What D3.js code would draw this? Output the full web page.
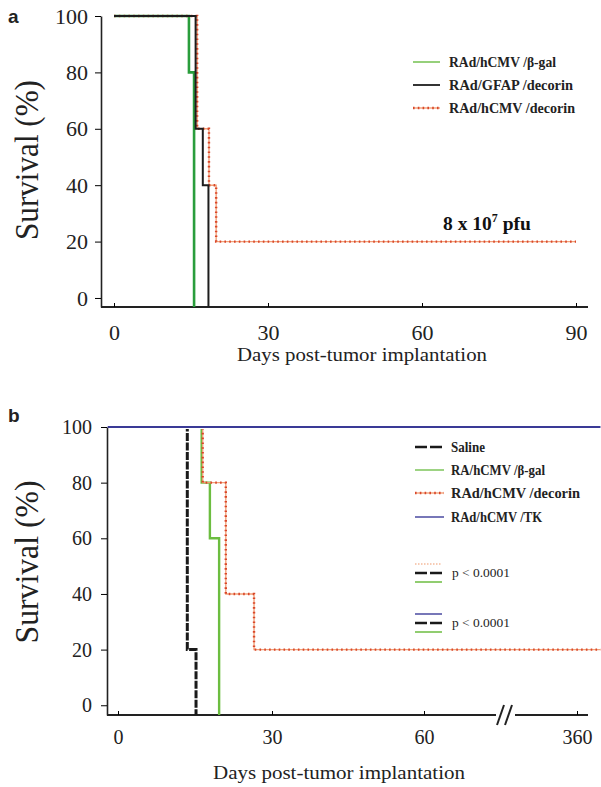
<!DOCTYPE html>
<html><head><meta charset="utf-8">
<script src="https://cdn.jsdelivr.net/npm/d3@7"></script>
<style>body{margin:0;background:#fff}svg{display:block}</style>
</head><body>
<script>
// ---------- DATA ----------
// Panel a: Kaplan-Meier steps (day, survival %)
const aGreenDays = [0, 14.6, 15.6];
const aGreenSurv = [100, 80, 0];
const aBlackDays = [0, 15.9, 17.3, 18.4];
const aBlackSurv = [100, 60, 40, 0];
const aOrangeDays = [0, 16.2, 18.5, 19.9, 90];
const aOrangeSurv = [100, 60, 40, 20, 20];
const aLegend = ["RAd/hCMV /β-gal", "RAd/GFAP /decorin", "RAd/hCMV /decorin"];
const aXTicks = [0, 30, 60, 90];
const yTicks = [0, 20, 40, 60, 80, 100];

// Panel b
const bSalineDays = [-2, 13.5, 15.2];
const bSalineSurv = [100, 20, 0];
const bGreenDays = [-2, 16.3, 17.9, 19.7];
const bGreenSurv = [100, 80, 60, 0];
const bOrangeDays = [-2, 16.5, 21.0, 26.5, 406];
const bOrangeSurv = [100, 80, 40, 20, 20];
const bTKDays = [-2, 406];
const bTKSurv = [100, 100];
const bLegend = ["Saline", "RA/hCMV /β-gal", "RAd/hCMV /decorin", "RAd/hCMV /TK"];
const bXTicks = [0, 30, 60, 360];
const pLabels = ["p < 0.0001", "p < 0.0001"];

const W = 601, H = 787;
const svg = d3.select("body").append("svg").attr("width", W).attr("height", H);
const serif = "'Liberation Serif','Times New Roman',serif";

function zip(d, s) { return d.map((v, i) => [v, s[i]]); }

function drawOrange(g, line, pts) {
  g.append("path").attr("d", line(pts)).attr("fill", "none")
    .attr("stroke", "#f2a27a").attr("stroke-width", 1.4);
  g.append("path").attr("d", line(pts)).attr("fill", "none")
    .attr("stroke", "#d9472a").attr("stroke-width", 2.4).attr("stroke-dasharray", "1.6,3.2");
}

function fitText(sel, len) {
  sel.attr("textLength", len).attr("lengthAdjust", "spacingAndGlyphs");
  return sel;
}

function yAxisTitle(g, cx, cy, len) {
  fitText(g.append("text").attr("transform", `translate(${cx},${cy}) rotate(-90)`)
    .attr("text-anchor", "middle").attr("font-family", serif).attr("font-size", 34)
    .attr("fill", "#222").text("Survival (%)"), len);
}

// ---------- PANEL A ----------
{
  const axX = 101, axY = 307, xEnd = 588;
  const x = d3.scaleLinear().domain([0, 90]).range([114, 576]);
  const y = d3.scaleLinear().domain([-3.2, 100]).range([axY, 16]);
  const g = svg.append("g");
  const line = d3.line().x(d => x(d[0]))
    .y(d => d[1] === 0 ? y(y.domain()[0]) : y(d[1])).curve(d3.curveStepAfter);

  g.append("line").attr("x1", axX).attr("x2", xEnd).attr("y1", axY).attr("y2", axY)
    .attr("stroke", "#222").attr("stroke-width", 2);
  const ya = g.append("g").attr("transform", `translate(${axX},0)`)
    .call(d3.axisLeft(y).tickValues(yTicks).tickSizeInner(6).tickSizeOuter(0).tickPadding(7));
  ya.select(".domain").attr("stroke", "#222").attr("stroke-width", 1.6);
  ya.selectAll("text").attr("font-family", serif).attr("font-size", 22).attr("fill", "#222");
  const xa = g.append("g").attr("transform", `translate(0,${axY})`)
    .call(d3.axisBottom(x).tickValues(aXTicks).tickSizeInner(-4).tickSizeOuter(0).tickPadding(17));
  xa.select(".domain").remove();
  xa.selectAll("text").attr("font-family", serif).attr("font-size", 22).attr("fill", "#222");

  g.append("path").attr("d", line(zip(aGreenDays, aGreenSurv))).attr("fill", "none")
    .attr("stroke", "#2a9d3c").attr("stroke-width", 2.6);
  drawOrange(g, line, zip(aOrangeDays, aOrangeSurv));
  g.append("path").attr("d", line(zip(aBlackDays, aBlackSurv))).attr("fill", "none")
    .attr("stroke", "#1d1d1d").attr("stroke-width", 2);

  // legend
  const lg = g.append("g");
  const rowsY = [62, 85, 108];
  const lens = [107, 124, 126];
  aLegend.forEach((t, i) => {
    const yy = rowsY[i];
    if (i === 2) {
      drawOrange(lg, d3.line(), [[413, yy], [440, yy]]);
    } else {
      lg.append("line").attr("x1", 413).attr("x2", 440).attr("y1", yy).attr("y2", yy)
        .attr("stroke", i === 0 ? "#7cc45a" : "#1d1d1d").attr("stroke-width", i === 0 ? 1.6 : 1.8);
    }
    fitText(lg.append("text").attr("x", 449).attr("y", yy + 5).attr("font-family", serif)
      .attr("font-weight", "bold").attr("font-size", 14).attr("fill", "#222").text(t), lens[i]);
  });

  const pf = g.append("text").attr("x", 443).attr("y", 230).attr("font-family", serif)
    .attr("font-weight", "bold").attr("font-size", 19.5).attr("fill", "#111");
  pf.append("tspan").text("8 x 10");
  pf.append("tspan").attr("dy", -8).attr("font-size", 12).text("7");
  pf.append("tspan").attr("dy", 8).text(" pfu");

  fitText(g.append("text").attr("x", 362).attr("y", 361).attr("text-anchor", "middle")
    .attr("font-family", serif).attr("font-size", 19).attr("fill", "#222")
    .text("Days post-tumor implantation"), 250);
  yAxisTitle(g, 38, 160, 160);
  g.append("text").attr("x", 8).attr("y", 23).attr("font-family", "'Liberation Sans',Arial,sans-serif")
    .attr("font-weight", "bold").attr("font-size", 19).attr("fill", "#222").text("a");
}

// ---------- PANEL B ----------
{
  const axX = 107, axY = 715, xEnd = 588;
  const x = d3.scaleLinear().domain([-2, 0, 30, 60, 360]).range([107.7, 118, 272, 424, 577]);
  const y = d3.scaleLinear().domain([-3.5, 100]).range([axY, 427]);
  const g = svg.append("g");
  const line = d3.line().x(d => x(d[0]))
    .y(d => d[1] === 0 ? y(y.domain()[0]) : y(d[1])).curve(d3.curveStepAfter);

  // clip so that curves under the TK line at 100% stay hidden
  svg.append("defs").append("clipPath").attr("id", "belowTop")
    .append("rect").attr("x", 0).attr("y", y(100) + 2).attr("width", W).attr("height", H);

  // x axis line with break
  const brk = 505;
  g.append("line").attr("x1", axX).attr("x2", brk - 9).attr("y1", axY).attr("y2", axY)
    .attr("stroke", "#222").attr("stroke-width", 2);
  g.append("line").attr("x1", brk + 10).attr("x2", xEnd).attr("y1", axY).attr("y2", axY)
    .attr("stroke", "#222").attr("stroke-width", 2);
  [-5, 3].forEach(o => {
    g.append("line").attr("x1", brk + o - 3).attr("x2", brk + o + 4)
      .attr("y1", axY + 10).attr("y2", axY - 10).attr("stroke", "#222").attr("stroke-width", 2);
  });

  const ya = g.append("g").attr("transform", `translate(${axX},0)`)
    .call(d3.axisLeft(y).tickValues(yTicks).tickSizeInner(6).tickSizeOuter(0).tickPadding(9));
  ya.select(".domain").attr("stroke", "#222").attr("stroke-width", 1.6);
  ya.selectAll("text").attr("font-family", serif).attr("font-size", 20).attr("fill", "#222");
  const xa = g.append("g").attr("transform", `translate(0,${axY})`)
    .call(d3.axisBottom(x).tickValues(bXTicks).tickSizeInner(-4).tickSizeOuter(0).tickPadding(15));
  xa.select(".domain").remove();
  xa.selectAll("text").attr("font-family", serif).attr("font-size", 20).attr("fill", "#222");

  const cg = g.append("g").attr("clip-path", "url(#belowTop)");
  cg.append("path").attr("d", line(zip(bGreenDays, bGreenSurv))).attr("fill", "none")
    .attr("stroke", "#6cbd40").attr("stroke-width", 2.4);
  drawOrange(cg, line, zip(bOrangeDays, bOrangeSurv));
  cg.append("path").attr("d", line(zip(bSalineDays, bSalineSurv))).attr("fill", "none")
    .attr("stroke", "#1a1a1a").attr("stroke-width", 3).attr("stroke-dasharray", "8,1.5");
  g.append("path").attr("d", line(zip(bTKDays, bTKSurv))).attr("fill", "none")
    .attr("stroke", "#3a3a96").attr("stroke-width", 2);

  // legend
  const lg = g.append("g");
  const rowsY = [447, 470, 493, 517];
  const lens = [34, 94, 129, 91];
  const lx1 = 415, lx2 = 444;
  function key(i, yy) {
    if (i === 0) {
      lg.append("line").attr("x1", lx1).attr("x2", lx2).attr("y1", yy).attr("y2", yy)
        .attr("stroke", "#1a1a1a").attr("stroke-width", 2.6).attr("stroke-dasharray", "12,3");
    } else if (i === 1) {
      lg.append("line").attr("x1", lx1).attr("x2", lx2).attr("y1", yy).attr("y2", yy)
        .attr("stroke", "#7cc45a").attr("stroke-width", 1.5);
    } else if (i === 2) {
      drawOrange(lg, d3.line(), [[lx1, yy], [lx2, yy]]);
    } else {
      lg.append("line").attr("x1", lx1).attr("x2", lx2).attr("y1", yy).attr("y2", yy)
        .attr("stroke", "#4a4aa0").attr("stroke-width", 1.5);
    }
  }
  bLegend.forEach((t, i) => {
    const yy = rowsY[i];
    key(i, yy);
    fitText(lg.append("text").attr("x", 451).attr("y", yy + 4.5).attr("font-family", serif)
      .attr("font-weight", "bold").attr("font-size", 14).attr("fill", "#222").text(t), lens[i]);
  });

  // p-value groups
  const groups = [[2, 0, 1], [3, 0, 1]];
  const gy = [[564, 573, 582], [614, 623, 632]];
  groups.forEach((keys, gi) => {
    keys.forEach((k, j) => {
      const yy = gy[gi][j];
      const l = lg.append("line").attr("x1", lx1).attr("x2", lx1 + 27).attr("y1", yy).attr("y2", yy);
      if (k === 2) l.attr("stroke", "#f0986a").attr("stroke-width", 1.2).attr("stroke-dasharray", "1.5,1.5");
      else if (k === 0) l.attr("stroke", "#1a1a1a").attr("stroke-width", 2.6).attr("stroke-dasharray", "12,3");
      else if (k === 1) l.attr("stroke", "#6cbd40").attr("stroke-width", 1.5);
      else l.attr("stroke", "#4a4aa0").attr("stroke-width", 1.5);
    });
    fitText(lg.append("text").attr("x", 452).attr("y", gy[gi][1] + 4).attr("font-family", serif)
      .attr("font-size", 12).attr("fill", "#222").text(pLabels[gi]), 58);
  });

  fitText(g.append("text").attr("x", 339).attr("y", 779).attr("text-anchor", "middle")
    .attr("font-family", serif).attr("font-size", 19).attr("fill", "#222")
    .text("Days post-tumor implantation"), 252);
  yAxisTitle(g, 38, 562, 163);
  g.append("text").attr("x", 8).attr("y", 422).attr("font-family", "'Liberation Sans',Arial,sans-serif")
    .attr("font-weight", "bold").attr("font-size", 19).attr("fill", "#222").text("b");
}
</script>
</body></html>
